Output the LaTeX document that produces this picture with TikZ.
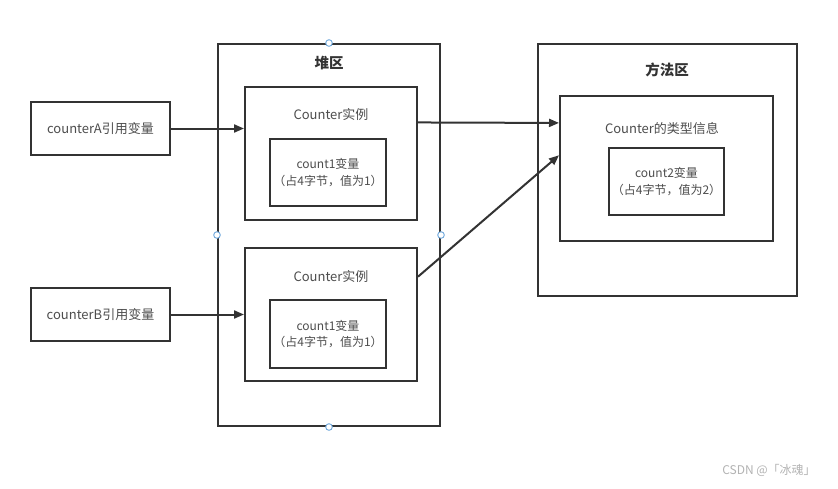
\documentclass[tikz,border=0pt]{standalone}
\usepackage{fontspec}
\setmainfont{Noto Sans CJK SC}
\usepackage{xcolor}
\definecolor{Ink}{HTML}{333333}
\definecolor{Label}{HTML}{4D4D4D}
\definecolor{Handle}{HTML}{6FA8DC}
\definecolor{Mark}{HTML}{B3B3B3}
\usetikzlibrary{arrows.meta,calc}
\tikzset{
  area/.style={draw=Ink,line width=2pt,inner sep=0pt},
  membox/.style={area,align=center,text=Label,font=\fontsize{13}{17}\selectfont},
  varbox/.style={membox,font=\fontsize{12}{16.5}\selectfont},
  title/.style={font=\bfseries\fontsize{14.5}{17}\selectfont,text=Ink},
  caption/.style={text=Label,font=\fontsize{13}{15}\selectfont},
  flow/.style={-{Triangle[length=10pt,width=8pt]},line width=2pt,draw=Ink},
  handle/.style={draw=Handle,fill=white,line width=0.9pt}
}
\begin{document}
\begin{tikzpicture}[x=1pt,y=-1pt]
  \useasboundingbox[fill=white] (0,0) rectangle (838,488);
  \node[area, minimum width=222pt, minimum height=382pt] (heap) at (329,235) {};
  \node[title] (heaptitle) at (329,63) {堆区};
  \node[area, minimum width=172pt, minimum height=133pt] (inst1) at (331,153.5) {};
  \node[caption] (inst1name) at (331,115) {Counter实例};
  \node[varbox, minimum width=116pt, minimum height=67pt] (var1) at (328,172.5) {count1变量\\（占4字节，值为1）};
  \node[area, minimum width=172pt, minimum height=133pt] (inst2) at (331,314.5) {};
  \node[caption] (inst2name) at (331,277) {Counter实例};
  \node[varbox, minimum width=116pt, minimum height=68pt] (var2) at (328,334) {count1变量\\（占4字节，值为1）};
  \node[membox, minimum width=139pt, minimum height=53pt] (refA) at (100.5,128.5) {counterA引用变量};
  \node[membox, minimum width=139pt, minimum height=53pt] (refB) at (100.5,314.5) {counterB引用变量};
  \node[area, minimum width=259pt, minimum height=252pt] (method) at (667.5,170) {};
  \node[title] (methodtitle) at (667,70) {方法区};
  \node[area, minimum width=213pt, minimum height=145pt] (typeinfo) at (666.5,168.5) {};
  \node[caption] (typename) at (662,129) {Counter的类型信息};
  \node[varbox, minimum width=115pt, minimum height=67pt] (var3) at (666.5,181.5) {count2变量\\（占4字节，值为2）};
  \draw[flow] (refA.east) -- (refA.east -| inst1.west);
  \draw[flow] (refB.east) -- (refB.east -| inst2.west);
  \draw[flow] ($(inst1.north east)!0.27!(inst1.south east)$) -- ($(typeinfo.north west)!0.19!(typeinfo.south west)$);
  \draw[flow] ($(inst2.north east)!0.22!(inst2.south east)$) -- ($(typeinfo.north west)!0.41!(typeinfo.south west)$);
  \foreach \side in {north,south,east,west}
    \draw[handle] (heap.\side) circle (3.3pt);
  \node[text=Mark, font=\fontsize{12}{14}\selectfont] (mark) at (769,470) {CSDN @「冰魂」};
\end{tikzpicture}
\end{document}
